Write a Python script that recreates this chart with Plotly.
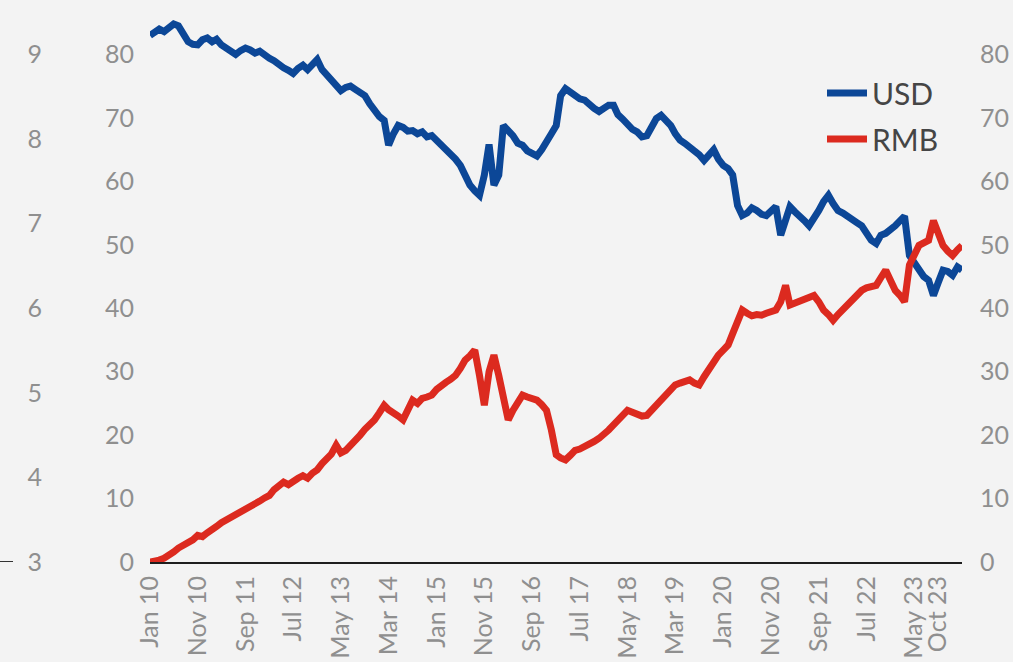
import plotly.graph_objects as go
import pandas as pd

# Monthly observations, Jan 2010 onward
months = pd.date_range("2010-01-01", periods=171, freq="MS")

usd = [83.0, 83.5, 84.0, 83.6, 84.3, 84.8, 84.5, 83.2, 82.0, 81.6,
       81.5, 82.3, 82.6, 82.0, 82.4, 81.5, 81.0, 80.4, 80.0, 80.6,
       81.0, 80.7, 80.2, 80.5, 79.8, 79.4, 79.0, 78.3, 77.9, 77.5,
       77.0, 77.8, 78.3, 77.6, 78.6, 79.2, 77.6, 76.7, 76.0, 75.0,
       74.3, 74.8, 75.0, 74.5, 74.0, 73.5, 72.2, 71.0, 70.2, 69.6,
       65.7, 67.5, 68.8, 68.5, 67.9, 68.0, 67.5, 67.8, 67.0, 67.2,
       66.5, 65.8, 65.0, 64.2, 63.5, 62.5, 61.0, 59.4, 58.5, 57.8,
       61.0, 65.8, 59.4, 61.0, 68.8, 68.0, 67.2, 66.0, 65.7, 64.8,
       64.3, 64.0, 65.0, 66.5, 67.5, 68.8, 73.5, 74.6, 74.0, 73.5,
       73.0, 72.8, 72.0, 71.5, 71.0, 71.6, 72.0, 72.0, 70.5, 69.8,
       68.8, 68.2, 67.8, 67.0, 67.2, 68.5, 69.9, 70.4, 69.5, 68.8,
       67.5, 66.5, 66.0, 65.4, 65.0, 64.2, 63.3, 64.2, 65.0, 63.5,
       62.5, 62.0, 61.0, 56.2, 54.6, 55.0, 55.8, 55.4, 54.8, 54.6,
       55.5, 56.0, 51.5, 54.0, 56.0, 55.2, 54.6, 53.8, 53.0, 54.0,
       55.4, 56.8, 57.8, 56.5, 55.4, 55.0, 54.6, 54.2, 53.5, 53.0,
       52.0, 50.7, 50.2, 51.5, 51.8, 52.3, 53.0, 53.8, 54.5, 48.3,
       47.2, 46.0, 45.0, 44.4, 42.0, 44.0, 46.0, 45.8, 45.2, 46.5,
       46.0]

rmb = [0.0, 0.1, 0.3, 0.6, 1.0, 1.6, 2.2, 2.6, 3.2, 3.5,
       4.2, 4.0, 4.6, 5.0, 5.6, 6.2, 6.6, 6.9, 7.4, 7.9,
       8.1, 8.6, 9.0, 9.6, 10.1, 10.5, 11.4, 12.1, 12.6, 12.2,
       12.8, 13.2, 13.6, 13.2, 14.0, 14.5, 15.5, 16.4, 17.0, 18.4,
       17.2, 17.6, 18.3, 19.2, 20.0, 20.9, 21.6, 22.4, 23.5, 24.7,
       24.0, 23.6, 23.0, 22.4, 24.0, 25.5, 25.0, 25.8, 26.0, 26.3,
       27.2, 27.9, 28.3, 28.8, 29.4, 30.5, 31.8, 32.5, 33.4, 29.4,
       24.7, 30.0, 32.6, 29.4, 26.0, 22.4, 23.9, 25.0, 26.3, 26.0,
       25.8, 25.5, 24.8, 23.9, 20.8, 16.9, 16.4, 16.1, 16.8, 17.6,
       17.8, 18.2, 18.4, 19.0, 19.5, 20.0, 20.8, 21.6, 22.4, 23.2,
       23.9, 23.6, 23.3, 23.0, 23.1, 23.9, 24.7, 25.5, 26.4, 27.2,
       27.9, 28.2, 28.5, 28.7, 28.2, 27.9, 29.2, 30.5, 31.8, 32.6,
       33.4, 34.2, 36.0, 38.1, 39.7, 39.2, 38.8, 39.0, 38.9, 39.2,
       39.5, 39.7, 41.0, 43.6, 40.5, 40.8, 41.0, 41.3, 41.7, 42.0,
       41.0, 39.7, 39.0, 38.1, 39.0, 39.8, 40.5, 41.3, 42.0, 42.8,
       43.2, 43.4, 43.6, 44.8, 46.0, 44.4, 42.8, 42.0, 41.0, 46.8,
       48.4, 49.9, 50.3, 50.7, 53.8, 51.8, 49.9, 49.0, 48.3, 49.2,
       49.9]

tick_dates = ["2010-01-01", "2010-11-01", "2011-09-01", "2012-07-01",
              "2013-05-01", "2014-03-01", "2015-01-01", "2015-11-01",
              "2016-09-01", "2017-07-01", "2018-05-01", "2019-03-01",
              "2020-01-01", "2020-11-01", "2021-09-01", "2022-07-01",
              "2023-05-01", "2023-10-01"]
tick_labels = ["Jan 10", "Nov 10", "Sep 11", "Jul 12", "May 13", "Mar 14",
               "Jan 15", "Nov 15", "Sep 16", "Jul 17", "May 18", "Mar 19",
               "Jan 20", "Nov 20", "Sep 21", "Jul 22", "May 23", "Oct 23"]

share_ticks = [0, 10, 20, 30, 40, 50, 60, 70, 80]
fx_ticks = [3, 4, 5, 6, 7, 8, 9]

W, H = 1013, 662
ml, mr, mt, mb = 0, 51, 10, 100
pw = W - ml - mr
x_start = (150 - ml) / pw
fx_pos = (42 - ml) / pw

BLUE = "#0c4797"
RED = "#dc2a1f"
GRAY = "#8f8f8f"
FONT = "Lato"

fig = go.Figure()
fig.add_trace(go.Scatter(x=months, y=usd, name="USD", mode="lines",
                         legendgroup="a",
                         line=dict(color=BLUE, width=7), yaxis="y"))
fig.add_trace(go.Scatter(x=months, y=rmb, name="RMB", mode="lines",
                         legendgroup="b",
                         line=dict(color=RED, width=7), yaxis="y2"))
# empty trace so the exchange-rate axis on the far left is drawn
fig.add_trace(go.Scatter(x=[None], y=[None], yaxis="y3", showlegend=False,
                         hoverinfo="skip", mode="lines"))

fig.update_layout(
    width=W, height=H,
    margin=dict(l=ml, r=mr, t=mt, b=mb, autoexpand=False),
    paper_bgcolor="#f3f3f3", plot_bgcolor="#f3f3f3",
    font=dict(family=FONT, color=GRAY, size=25),
    showlegend=True,
    legend=dict(x=(822 - ml) / pw, y=1 - (67 - mt) / (H - mt - mb),
                xanchor="left", yanchor="top", bgcolor="rgba(0,0,0,0)",
                font=dict(size=30, color="#454545", family=FONT),
                itemwidth=40, tracegroupgap=4),
    xaxis=dict(domain=[x_start, 1], type="date", automargin=False,
               range=["2010-01-01", "2024-03-01"],
               tickmode="array", tickvals=tick_dates, ticktext=tick_labels,
               tickangle=-90, tickfont=dict(size=25, color=GRAY),
               showgrid=False, zeroline=False,
               showline=True, linecolor="#1e1e1e", linewidth=2,
               ticks="outside", ticklen=2, tickcolor="rgba(0,0,0,0)"),
    yaxis=dict(range=[0, 87], tickmode="array", tickvals=share_ticks,
               automargin=False,
               showgrid=False, zeroline=False, showline=False,
               ticks="outside", ticklen=10, tickcolor="rgba(0,0,0,0)",
               tickfont=dict(size=25, color=GRAY), anchor="x"),
    yaxis2=dict(range=[0, 87], tickmode="array", tickvals=share_ticks,
                overlaying="y", side="right", anchor="x", automargin=False,
                showgrid=False, zeroline=False, showline=False,
                ticks="outside", ticklen=12, tickcolor="rgba(0,0,0,0)",
                tickfont=dict(size=25, color=GRAY)),
    yaxis3=dict(range=[3, 3 + 87 * 6 / 80], tickmode="array", tickvals=fx_ticks,
                overlaying="y", side="left", anchor="free", position=fx_pos,
                automargin=False,
                showgrid=False, zeroline=False, showline=False,
                ticks="", tickfont=dict(size=25, color=GRAY)),
    shapes=[dict(type="line", xref="paper", yref="y", x0=0, x1=13 / pw,
                 y0=0, y1=0, line=dict(color="#333333", width=2))],
)

fig.write_html("out.html", config={"displayModeBar": False},
               post_script="document.body.style.margin='0';document.body.style.background='#f3f3f3';")
